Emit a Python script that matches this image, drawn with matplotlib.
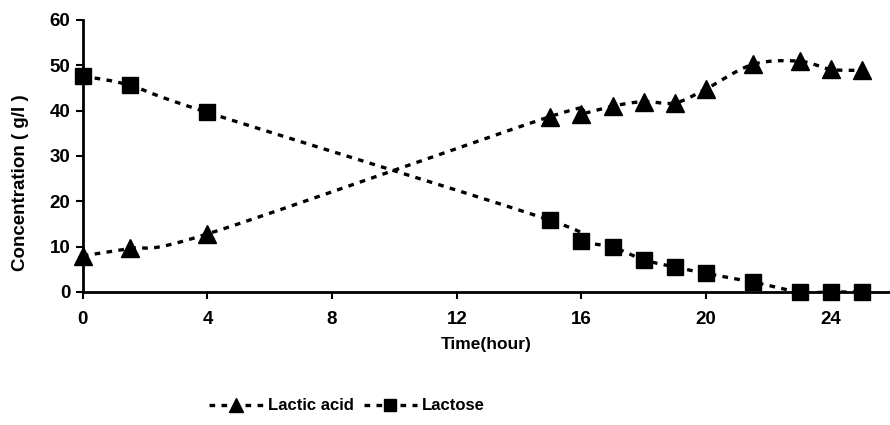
import numpy as np
import matplotlib
matplotlib.use("Agg")
import matplotlib.pyplot as plt
from matplotlib.lines import Line2D

# valores
tempo_acido = [0, 1.5, 4, 15, 16, 17, 18, 19, 20, 21.5, 23, 24, 25]
acido_latico = [8.0, 9.6, 12.8, 38.7, 39.3, 41.0, 42.0, 41.7, 44.8, 50.2, 50.9, 49.1, 48.9]
tempo_lactose = [0, 1.5, 4, 15, 16, 17, 18, 19, 20, 21.5, 23, 24, 25]
lactose = [47.6, 45.6, 39.6, 15.8, 11.3, 9.9, 7.1, 5.5, 4.1, 2.2, 0.0, 0.0, 0.0]
x_ticks = [0, 4, 8, 12, 16, 20, 24]
y_ticks = [0, 10, 20, 30, 40, 50, 60]

plt.rcParams["font.family"] = ["Liberation Sans", "DejaVu Sans"]
plt.rcParams["font.weight"] = "bold"


def suaviza(x, y, n=30):
    # curva suavizada tipo Excel (Catmull-Rom entre os pontos)
    x = np.asarray(x, float)
    y = np.asarray(y, float)
    px, py = [], []
    for i in range(len(x) - 1):
        x0, y0 = (x[i - 1], y[i - 1]) if i > 0 else (x[i], y[i])
        x3, y3 = (x[i + 2], y[i + 2]) if i + 2 < len(x) else (x[i + 1], y[i + 1])
        x1, y1, x2, y2 = x[i], y[i], x[i + 1], y[i + 1]
        c1x, c1y = x1 + (x2 - x0) / 6, y1 + (y2 - y0) / 6
        c2x, c2y = x2 - (x3 - x1) / 6, y2 - (y3 - y1) / 6
        t = np.linspace(0, 1, n)
        b0, b1, b2, b3 = (1 - t) ** 3, 3 * t * (1 - t) ** 2, 3 * t ** 2 * (1 - t), t ** 3
        px.extend(b0 * x1 + b1 * c1x + b2 * c2x + b3 * x2)
        py.extend(b0 * y1 + b1 * c1y + b2 * c2y + b3 * y2)
    return px, py


estilo = dict(color="black", linewidth=2.4, linestyle=(0, (1.7, 1.9)), dash_capstyle="butt")

fig = plt.figure(figsize=(8.9, 4.25), dpi=100)
ax = fig.add_axes([0.093, 0.313, 0.907, 0.64])

sx, sy = suaviza(tempo_acido, acido_latico)
ax.plot(sx, sy, **estilo)
ax.plot(tempo_acido, acido_latico, linestyle="none", marker="^", markersize=13, color="black", clip_on=False)
sx, sy = suaviza(tempo_lactose, lactose)
ax.plot(sx, sy, **estilo)
ax.plot(tempo_lactose, lactose, linestyle="none", marker="s", markersize=11.5, color="black", clip_on=False)

ax.set_xlim(0, 25.9)
ax.set_ylim(0, 60)
ax.set_xticks(x_ticks)
ax.set_yticks(y_ticks)
ax.spines["top"].set_visible(False)
ax.spines["right"].set_visible(False)
ax.spines["left"].set_linewidth(2)
ax.spines["bottom"].set_linewidth(2)
ax.tick_params(axis="both", width=1.5, length=5, labelsize=13.5, direction="out")
ax.tick_params(axis="x", pad=9)
ax.tick_params(axis="y", pad=4)
for lab in ax.get_xticklabels() + ax.get_yticklabels():
    lab.set_fontweight("bold")

ax.set_xlabel("Time(hour)", fontsize=12.5, fontweight="bold", labelpad=6)
ax.set_ylabel("Concentration ( g/l )", fontsize=13.5, fontweight="bold")
ax.yaxis.set_label_coords(-0.066, 0.40)

handles = [
    Line2D([], [], marker="^", markersize=10, **estilo),
    Line2D([], [], marker="s", markersize=9, **estilo),
]
fig.legend(handles, ["Lactic acid", "Lactose"], loc="center", bbox_to_anchor=(0.39, 0.045),
           ncol=2, frameon=False, fontsize=12, handlelength=3.2, columnspacing=0.6, handletextpad=0.3)

fig.savefig("out.png", dpi=100)
